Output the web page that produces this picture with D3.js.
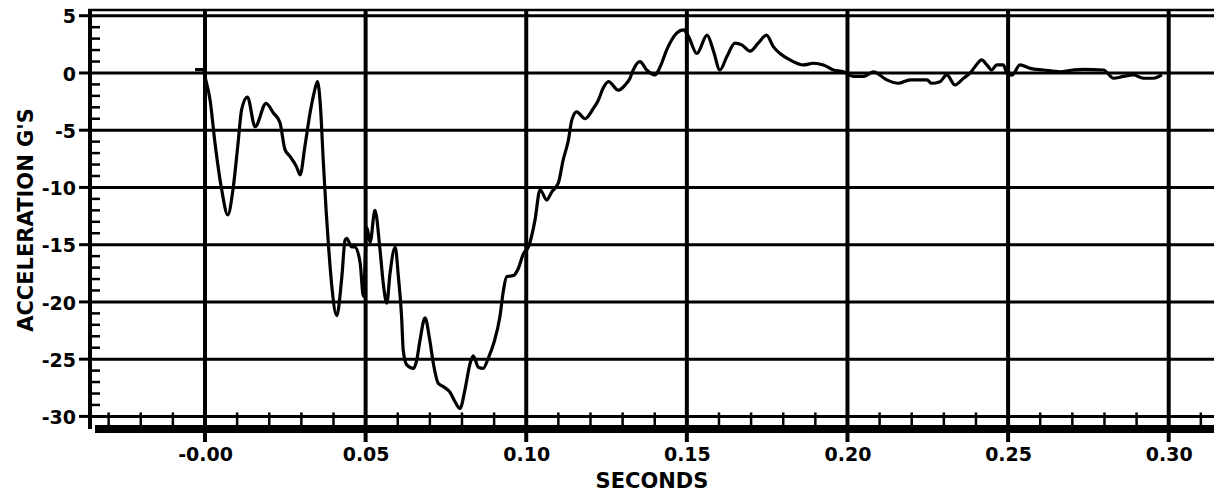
<!DOCTYPE html>
<html>
<head>
<meta charset="utf-8">
<script src="https://cdn.jsdelivr.net/npm/d3@7"></script>
<style>
  html, body { margin: 0; padding: 0; background: #fff; overflow: hidden; }
  svg { display: block; }
  .tick text { font-family: "DejaVu Sans", sans-serif; font-weight: bold; fill: #000; }
</style>
</head>
<body>
<svg id="chart" width="1214" height="493"></svg>
<script>
// ---- data ----
const times = [-0.0031,-0.0006,0.0000,0.0016,0.0031,0.0052,0.0071,0.0087,0.0103,0.0114,0.0132,0.0156,0.0190,0.0213,0.0233,0.0249,0.0265,0.0285,0.0296,0.0311,0.0327,0.0339,0.0350,0.0360,0.0368,0.0377,0.0384,0.0394,0.0410,0.0426,0.0436,0.0441,0.0457,0.0467,0.0483,0.0493,0.0504,0.0514,0.0529,0.0545,0.0555,0.0566,0.0576,0.0592,0.0602,0.0612,0.0617,0.0628,0.0649,0.0659,0.0669,0.0685,0.0700,0.0711,0.0726,0.0742,0.0763,0.0778,0.0794,0.0809,0.0825,0.0835,0.0851,0.0866,0.0882,0.0900,0.0918,0.0929,0.0939,0.0960,0.0975,0.0991,0.1007,0.1027,0.1043,0.1064,0.1079,0.1100,0.1115,0.1131,0.1142,0.1157,0.1183,0.1209,0.1224,0.1240,0.1256,0.1287,0.1308,0.1323,0.1333,0.1354,0.1375,0.1401,0.1417,0.1437,0.1453,0.1469,0.1489,0.1505,0.1531,0.1563,0.1582,0.1603,0.1624,0.1650,0.1671,0.1697,0.1722,0.1748,0.1769,0.1790,0.1821,0.1863,0.1894,0.1925,0.1956,0.1987,0.2018,0.2050,0.2081,0.2122,0.2158,0.2195,0.2247,0.2262,0.2288,0.2309,0.2335,0.2361,0.2382,0.2397,0.2418,0.2434,0.2449,0.2465,0.2485,0.2496,0.2512,0.2537,0.2569,0.2610,0.2662,0.2703,0.2735,0.2797,0.2828,0.2859,0.2890,0.2921,0.2952,0.2979];
const accel = [0.3,0.3,-0.35,-2.4,-6.1,-10.2,-12.4,-10.2,-6.1,-3.2,-2.1,-4.7,-2.65,-3.5,-4.3,-6.7,-7.3,-8.2,-8.9,-6.4,-3.5,-1.8,-0.76,-3.2,-7.6,-12,-14.9,-18.4,-21.2,-17.8,-14.6,-14.45,-15.2,-15.2,-16.6,-19.5,-13.5,-14.8,-12,-15.5,-18.4,-20.1,-17.5,-15.2,-17.8,-21.3,-24.2,-25.5,-25.8,-25.1,-23.4,-21.4,-23.4,-25.4,-27.1,-27.4,-27.9,-28.7,-29.3,-27.7,-25.4,-24.7,-25.7,-25.8,-24.9,-23.5,-21.3,-19,-17.8,-17.7,-17.1,-15.8,-15.2,-12.9,-10.2,-11.1,-10.4,-9.6,-7.6,-5.9,-4.1,-3.4,-4.0,-3.1,-2.4,-1.3,-0.76,-1.5,-1.05,-0.46,0.26,0.99,0.26,-0.17,0.55,2.0,2.9,3.5,3.76,3.2,1.7,3.3,2.0,0.26,1.4,2.6,2.45,1.9,2.6,3.3,2.3,1.7,1.14,0.7,0.85,0.7,0.26,0.11,-0.3,-0.3,0.1,-0.6,-0.9,-0.6,-0.6,-0.9,-0.76,-0.17,-1.05,-0.46,0,0.55,1.14,0.7,0.26,0.7,0.7,0,-0.2,0.7,0.4,0.26,0.1,0.26,0.32,0.26,-0.46,-0.3,-0.17,-0.46,-0.46,-0.17];
const xTicks = [0.00, 0.05, 0.10, 0.15, 0.20, 0.25, 0.30];
const xTickLabels = ["-0.00", "0.05", "0.10", "0.15", "0.20", "0.25", "0.30"];
const yTicks = [5, 0, -5, -10, -15, -20, -25, -30];
const yTickLabels = ["5", "0", "-5", "-10", "-15", "-20", "-25", "-30"];
const xMinorTicks = [-0.03,-0.02,-0.01,0.01,0.02,0.03,0.04,0.06,0.07,0.08,0.09,0.11,0.12,0.13,0.14,0.16,0.17,0.18,0.19,0.21,0.22,0.23,0.24,0.26,0.27,0.28,0.29,0.31];
const yMinorTicks = [4,3,2,1,-1,-2,-3,-4,-6,-7,-8,-9,-11,-12,-13,-14,-16,-17,-18,-19,-21,-22,-23,-24,-26,-27,-28,-29];
const xTitle = "SECONDS";
const yTitle = "ACCELERATION G'S";

// ---- layout ----
const svg = d3.select("#chart");
const pLeft = 90, pRight = 1214, pTop = 10, pBottom = 429;
const x = d3.scaleLinear().domain([-0.0358, 0.3141]).range([pLeft, pRight]);
const y = d3.scaleLinear().domain([-31.1, 5.5]).range([pBottom, pTop]);

// top border
svg.append("line").attr("x1", pLeft - 2).attr("x2", pRight).attr("y1", pTop).attr("y2", pTop)
  .attr("stroke", "#000").attr("stroke-width", 2.5);

// horizontal gridlines
svg.append("g").selectAll("line").data(yTicks).join("line")
  .attr("x1", pLeft).attr("x2", pRight)
  .attr("y1", d => y(d)).attr("y2", d => y(d))
  .attr("stroke", "#000").attr("stroke-width", 3);

// major y tick stubs to the left
svg.append("g").selectAll("line").data(yTicks).join("line")
  .attr("x1", pLeft - 11).attr("x2", pLeft)
  .attr("y1", d => y(d)).attr("y2", d => y(d))
  .attr("stroke", "#000").attr("stroke-width", 3);

// minor y ticks
svg.append("g").selectAll("line").data(yMinorTicks).join("line")
  .attr("x1", pLeft).attr("x2", pLeft + 10)
  .attr("y1", d => y(d)).attr("y2", d => y(d))
  .attr("stroke", "#000").attr("stroke-width", 2.5);

// vertical gridlines
svg.append("g").selectAll("line").data(xTicks).join("line")
  .attr("x1", d => x(d)).attr("x2", d => x(d))
  .attr("y1", pTop).attr("y2", pBottom + 13)
  .attr("stroke", "#000").attr("stroke-width", 4);

// minor x ticks
svg.append("g").selectAll("line").data(xMinorTicks).join("line")
  .attr("x1", d => x(d)).attr("x2", d => x(d))
  .attr("y1", y(-30) - 4).attr("y2", pBottom)
  .attr("stroke", "#000").attr("stroke-width", 2.5);

// bottom band
svg.append("line").attr("x1", pLeft + 5).attr("x2", pRight).attr("y1", pBottom).attr("y2", pBottom)
  .attr("stroke", "#000").attr("stroke-width", 8);

// left axis line
svg.append("line").attr("x1", pLeft).attr("x2", pLeft).attr("y1", pTop - 1).attr("y2", pBottom)
  .attr("stroke", "#000").attr("stroke-width", 4);

// data curve
const line = d3.line().x((d, i) => x(times[i])).y(d => y(d)).curve(d3.curveMonotoneX);
svg.append("path").datum(accel)
  .attr("d", line).attr("fill", "none")
  .attr("stroke", "#000").attr("stroke-width", 3.2).attr("stroke-linejoin", "round");

// axes (labels only)
const xAxis = d3.axisBottom(x).tickValues(xTicks).tickSize(0).tickPadding(0)
  .tickFormat((d, i) => xTickLabels[i]);
const gx = svg.append("g").attr("transform", `translate(0, 447)`).call(xAxis);
gx.select(".domain").remove();
gx.selectAll("text").style("font-size", "19px");

const yAxis = d3.axisLeft(y).tickValues(yTicks).tickSize(0).tickPadding(0)
  .tickFormat((d, i) => yTickLabels[i]);
const gy = svg.append("g").attr("transform", `translate(76, 1)`).call(yAxis);
gy.select(".domain").remove();
gy.selectAll("text").style("font-size", "19px");

// titles
svg.append("text").attr("x", 652).attr("y", 488).attr("text-anchor", "middle")
  .attr("font-family", "DejaVu Sans, sans-serif").attr("font-weight", "bold")
  .attr("font-size", 21).text(xTitle);
svg.append("text").attr("transform", "translate(33, 220) rotate(-90)").attr("text-anchor", "middle")
  .attr("font-family", "DejaVu Sans, sans-serif").attr("font-weight", "bold")
  .attr("font-size", 21).text(yTitle);
</script>
</body>
</html>
